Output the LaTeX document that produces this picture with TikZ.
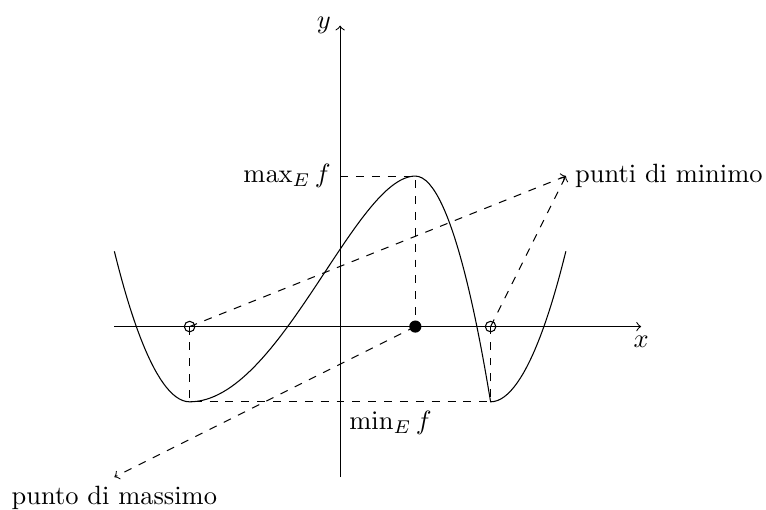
\documentclass[tikz,border=0pt]{standalone}
\usepackage{tikz}
\usetikzlibrary{positioning}
\tikzset{
  holedot/.style={circle, draw, inner sep=0pt, minimum size=4pt},
  fulldot/.style={circle, fill, inner sep=0pt, minimum size=4.6pt},
  guide/.style={dashed}
}

\begin{document}
\begin{tikzpicture}
    \useasboundingbox (-4.52,-2.43) rectangle (5.66,4.34);

    % assi
    \draw[->] (-3,0) -- (4,0) node[below] (xlab) {$x$};
    \draw[->] (0,-2) -- (0,4) node[left] (ylab) {$y$};

    \coordinate (minL) at (-2,-1);
    \coordinate (minR) at (2,-1);
    \coordinate (top) at (1,2);
    \coordinate (tipmin) at (3,2);
    \coordinate (tipmax) at (-3,-2);

    % grafico
    \draw (-3,1) parabola[bend at end] (minL)
        .. controls (-0.8,-1) and (0.2,2) .. (top)
        parabola (minR) parabola (3,1);

    % livelli
    \draw[guide] (0,2) node[left] (maxlab) {$\max_E f$} -- (top) -- (1,0);
    \draw[guide] (-2,0) -- (minL) -- (minR) -- (2,0);
    \node[below right] (minlab) at (0,-1) {$\min_E f$};

    \node[holedot] (pL) at (-2,0) {};
    \node[holedot] (pR) at (2,0) {};
    \node[fulldot] (pM) at (1,0) {};

    % etichette
    \node[right=0pt of tipmin] (lmin) {punti di minimo};
    \node[below=0pt of tipmax] (lmax) {punto di massimo};
    \draw[guide, ->] (pL.center) -- (tipmin);
    \draw[guide, ->] (pR.center) -- (tipmin);
    \draw[guide, ->] (pM.center) -- (tipmax);
\end{tikzpicture}
\end{document}
